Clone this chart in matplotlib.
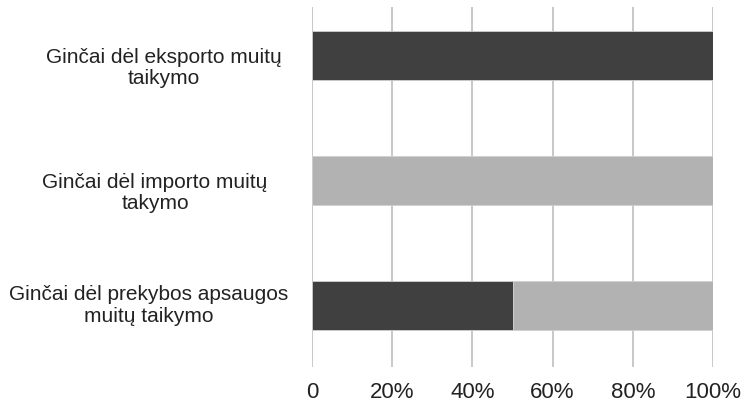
import matplotlib
matplotlib.use("Agg")
import matplotlib.pyplot as plt
from matplotlib.transforms import blended_transform_factory

plt.rcParams['font.family'] = ['Liberation Sans', 'DejaVu Sans']

categories = [
    "Ginčai dėl prekybos apsaugos\nmuitų taikymo",
    "Ginčai dėl importo muitų\ntakymo",
    "Ginčai dėl eksporto muitų\ntaikymo",
]
dark_values = [50, 0, 100]
light_values = [50, 100, 0]
tick_values = [0, 20, 40, 60, 80, 100]
tick_labels = ["0", "20%", "40%", "60%", "80%", "100%"]

W, H = 745, 404
fig = plt.figure(figsize=(W / 100, H / 100), dpi=100)
ax = fig.add_axes([312 / W, 1 - 367 / H, (713 - 312) / W, (367 - 7) / H])

ypos = list(range(len(categories)))
ax.barh(ypos, dark_values, height=0.39, color="#404040", edgecolor="#d0d0d0", linewidth=0.6, zorder=3)
ax.barh(ypos, light_values, left=dark_values, height=0.39, color="#b2b2b2", edgecolor="#d0d0d0", linewidth=0.6, zorder=3)

ax.set_xlim(0, 100)
ax.set_ylim(-0.492, 2.388)
ax.set_xticks(tick_values)
ax.set_xticklabels(tick_labels, fontsize=16, color="#222222")
ax.tick_params(axis='x', length=0, pad=11)
ax.set_yticks([])
for s in ax.spines.values():
    s.set_visible(False)
ax.grid(axis='x', color="#c4c4c4", linewidth=1.3, zorder=0)

label_x = [149 / W, 155 / W, 164 / W]
label_dy = [0.0, -0.1, -0.1]
trans = blended_transform_factory(fig.transFigure, ax.transData)
for i, lab in enumerate(categories):
    ax.text(label_x[i], ypos[i] + label_dy[i], lab, transform=trans, ha='center', va='center',
            multialignment='center', fontsize=15, color="#222222", linespacing=1.15)

fig.savefig("out.png", dpi=100)
